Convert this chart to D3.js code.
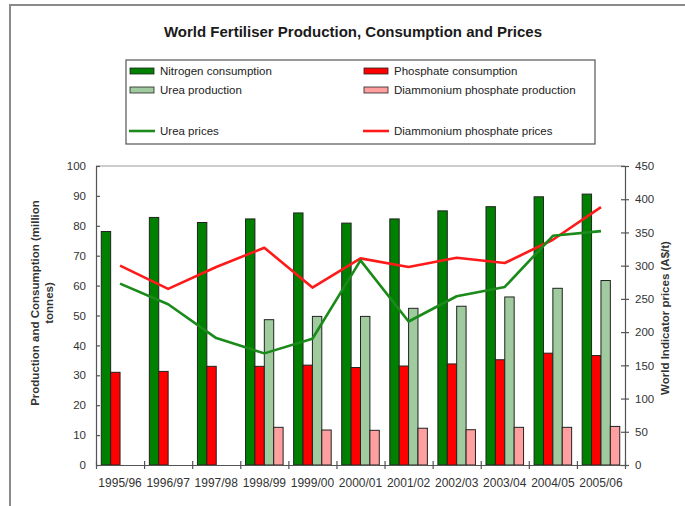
<!DOCTYPE html>
<html>
<head>
<meta charset="utf-8">
<script src="https://cdn.jsdelivr.net/npm/d3@7"></script>
<style>
  body { margin: 0; background: #fff; }
  svg { display: block; font-family: "Liberation Sans", Arial, sans-serif; }
</style>
</head>
<body>
<svg id="chart" width="685" height="506"></svg>
<script>
// Seasons along the category axis
const seasons = ["1995/96","1996/97","1997/98","1998/99","1999/00","2000/01","2001/02","2002/03","2003/04","2004/05","2005/06"];

// Million tonnes (left axis)
const nitrogenConsumption = [78.1, 82.8, 81.1, 82.3, 84.3, 80.9, 82.3, 85.0, 86.4, 89.7, 90.6];
const phosphateConsumption = [31.0, 31.3, 33.0, 33.0, 33.4, 32.6, 33.1, 33.8, 35.2, 37.4, 36.6];
const ureaProduction = [null, null, null, 48.6, 49.7, 49.7, 52.4, 53.1, 56.2, 59.1, 61.7];
const dapProduction = [null, null, null, 12.6, 11.7, 11.6, 12.3, 11.8, 12.6, 12.6, 12.9];

// A$/t (right axis)
const ureaPrices = [273, 242, 191, 168, 190, 308, 216, 254, 268, 345, 352];
const dapPrices = [300, 265, 298, 327, 267, 311, 298, 312, 304, 339, 388];

const leftTicks = [0,10,20,30,40,50,60,70,80,90,100];
const rightTicks = [0,50,100,150,200,250,300,350,400,450];

const svg = d3.select("#chart");
const plot = { left: 96, right: 625, top: 166, bottom: 465 };

// Outer chart frame
svg.append("rect").attr("x", 10).attr("y", 5).attr("width", 700).attr("height", 520)
  .attr("fill", "#fff").attr("stroke", "#8a8a8a").attr("stroke-width", 2);

// Title
svg.append("text").attr("x", 353).attr("y", 37).attr("text-anchor", "middle")
  .attr("font-size", 15).attr("font-weight", "bold").attr("fill", "#1a1a1a")
  .text("World Fertiliser Production, Consumption and Prices");

// Scales
const x = d3.scaleBand().domain(seasons).range([plot.left, plot.right]);
const yL = d3.scaleLinear().domain([0, 100]).range([plot.bottom, plot.top]);
const yR = d3.scaleLinear().domain([0, 450]).range([plot.bottom, plot.top]);

const series = [
  { name: "Nitrogen consumption", values: nitrogenConsumption, fill: "#008000" },
  { name: "Phosphate consumption", values: phosphateConsumption, fill: "#ff0000" },
  { name: "Urea production", values: ureaProduction, fill: "#9fcb9f" },
  { name: "Diammonium phosphate production", values: dapProduction, fill: "#ff9f9f" }
];
const barW = x.bandwidth() / 5.12;
const groupOffset = (x.bandwidth() - barW * 4) / 2;

// Plot area top edge
svg.append("line").attr("x1", plot.left).attr("x2", plot.right)
  .attr("y1", plot.top).attr("y2", plot.top).attr("stroke", "#9a9a9a").attr("stroke-width", 1);

// Bars
series.forEach((s, si) => {
  svg.append("g").selectAll("rect")
    .data(seasons.map((d, i) => ({ season: d, v: s.values[i] })).filter(d => d.v != null))
    .join("rect")
    .attr("x", d => x(d.season) + groupOffset + si * barW)
    .attr("y", d => yL(d.v))
    .attr("width", barW)
    .attr("height", d => yL(0) - yL(d.v))
    .attr("fill", s.fill)
    .attr("stroke", "#222").attr("stroke-width", 1);
});

// Price lines on the right axis
const line = vals => d3.line()
  .x((d, i) => x(seasons[i]) + x.bandwidth() / 2)
  .y(d => yR(d))(vals);
svg.append("path").attr("d", line(dapPrices)).attr("fill", "none")
  .attr("stroke", "#ff1a1a").attr("stroke-width", 2.6).attr("stroke-linejoin", "round");
svg.append("path").attr("d", line(ureaPrices)).attr("fill", "none")
  .attr("stroke", "#1a8a1a").attr("stroke-width", 2.6).attr("stroke-linejoin", "round");

// Axes
function styleAxis(g) {
  g.select(".domain").attr("stroke", "#555").attr("stroke-width", 1.2);
  g.selectAll(".tick line").attr("stroke", "#555").attr("stroke-width", 1.2);
  g.selectAll(".tick text").attr("font-size", 11.5).attr("fill", "#333")
    .attr("font-family", "\"Liberation Sans\", Arial, sans-serif");
}

const leftAxis = svg.append("g").attr("transform", `translate(${plot.left},0)`)
  .call(d3.axisLeft(yL).tickValues(leftTicks).tickSize(4).tickSizeOuter(0).tickPadding(6));
leftAxis.selectAll(".tick line").attr("x2", 4);
styleAxis(leftAxis);

const rightAxis = svg.append("g").attr("transform", `translate(${plot.right},0)`)
  .call(d3.axisRight(yR).tickValues(rightTicks).tickSize(4).tickSizeOuter(0).tickPadding(6));
rightAxis.selectAll(".tick line").attr("x1", -4);
styleAxis(rightAxis);

// Category axis: labels under each band, ticks on band boundaries
const xAxis = svg.append("g").attr("transform", `translate(0,${plot.bottom})`)
  .call(d3.axisBottom(x).tickSize(0).tickPadding(13));
xAxis.select(".domain").remove();
styleAxis(xAxis);
xAxis.selectAll(".tick text").attr("font-size", 12);
const xb = d3.scaleLinear().domain([0, seasons.length]).range([plot.left, plot.right]);
const xTicks = svg.append("g").attr("transform", `translate(0,${plot.bottom})`)
  .call(d3.axisBottom(xb).tickValues(d3.range(0, seasons.length + 1)).tickSize(4).tickSizeOuter(0).tickFormat(""));
xTicks.selectAll(".tick line").attr("y1", -4);
styleAxis(xTicks);

// Axis titles
svg.append("text").attr("transform", "translate(39,303) rotate(-90)")
  .attr("text-anchor", "middle").attr("font-size", 11.5).attr("font-weight", "bold").attr("fill", "#333")
  .text("Production and Consumption (million");
svg.append("text").attr("transform", "translate(53,303) rotate(-90)")
  .attr("text-anchor", "middle").attr("font-size", 11.5).attr("font-weight", "bold").attr("fill", "#333")
  .text("tonnes)");
svg.append("text").attr("transform", "translate(669,318) rotate(-90)")
  .attr("text-anchor", "middle").attr("font-size", 11.5).attr("font-weight", "bold").attr("fill", "#333")
  .text("World Indicator prices (A$/t)");

// Legend
const legend = svg.append("g");
legend.append("rect").attr("x", 126).attr("y", 60).attr("width", 469).attr("height", 84)
  .attr("fill", "#fff").attr("stroke", "#555").attr("stroke-width", 1.2);
const legendItems = [
  { label: "Nitrogen consumption", kind: "bar", color: series[0].fill, col: 0, y: 71 },
  { label: "Phosphate consumption", kind: "bar", color: series[1].fill, col: 1, y: 71 },
  { label: "Urea production", kind: "bar", color: series[2].fill, col: 0, y: 90 },
  { label: "Diammonium phosphate production", kind: "bar", color: series[3].fill, col: 1, y: 90 },
  { label: "Urea prices", kind: "line", color: "#1a8a1a", col: 0, y: 131 },
  { label: "Diammonium phosphate prices", kind: "line", color: "#ff1a1a", col: 1, y: 131 }
];
const colX = [129, 363];
legendItems.forEach(it => {
  const x0 = colX[it.col];
  if (it.kind === "bar") {
    legend.append("rect").attr("x", x0 + 1).attr("y", it.y - 3).attr("width", 24).attr("height", 6)
      .attr("fill", it.color).attr("stroke", "#222").attr("stroke-width", 0.8);
  } else {
    legend.append("line").attr("x1", x0).attr("x2", x0 + 26).attr("y1", it.y).attr("y2", it.y)
      .attr("stroke", it.color).attr("stroke-width", 2.6);
  }
  legend.append("text").attr("x", x0 + 31).attr("y", it.y + 4)
    .attr("font-size", 11.5).attr("fill", "#222").text(it.label);
});
</script>
</body>
</html>
